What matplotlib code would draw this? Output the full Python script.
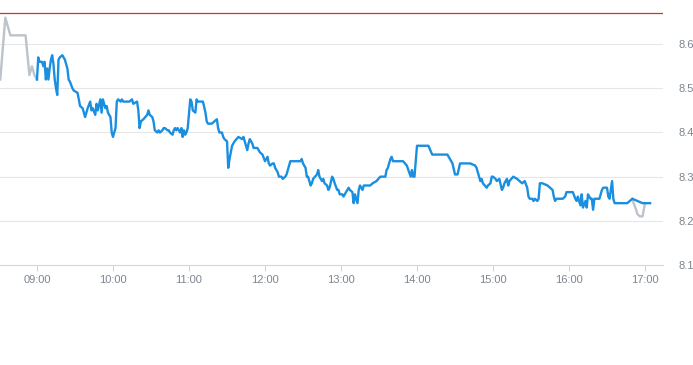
import matplotlib
matplotlib.use("Agg")
import matplotlib.pyplot as plt
import numpy as np

# minutes after 09:00 and price
pre_minutes = [-29, -25, -21, -9, -7, -6, -4, -2, 0]
pre_prices = [8.52, 8.66, 8.62, 8.62, 8.56, 8.53, 8.55, 8.53, 8.52]

day_minutes = [
    0, 1, 2, 4, 5, 6, 7, 8, 9, 10, 11, 12, 13, 14, 15, 16, 17, 18, 20, 21,
    22, 24, 25, 26, 28, 29, 32, 33, 34, 36, 37, 38, 39, 40, 42, 43, 44, 46, 47, 48,
    50, 51, 52, 54, 55, 56, 58, 59, 60, 62, 63, 64, 66, 67, 68, 71, 73, 75, 76, 79,
    80, 81, 82, 84, 87, 88, 89, 91, 92, 93, 95, 96, 97, 99, 100, 101, 103, 104, 105, 107,
    108, 109, 110, 111, 113, 114, 115, 116, 117, 118, 119, 121, 122, 123, 125, 126, 127, 131, 133, 134,
    135, 138, 140, 142, 143, 144, 146, 147, 148, 150, 151, 152, 154, 156, 159, 162, 163, 164, 166, 167,
    168, 170, 171, 172, 174, 176, 178, 180, 182, 183, 184, 186, 187, 188, 190, 191, 193, 194, 196, 197,
    198, 200, 205, 208, 209, 210, 212, 213, 214, 216, 217, 218, 221, 222, 223, 225, 226, 227, 229, 230,
    231, 233, 234, 235, 237, 238, 239, 241, 242, 243, 245, 246, 247, 249, 250, 251, 253, 254, 255, 257,
    258, 263, 265, 268, 271, 272, 275, 276, 277, 279, 280, 281, 287, 289, 292, 295, 296, 297, 298, 300,
    309, 312, 324, 326, 328, 330, 332, 334, 342, 346, 347, 348, 350, 351, 352, 355, 356, 358, 359, 360,
    362, 363, 365, 367, 368, 369, 371, 372, 373, 376, 379, 381, 383, 385, 387, 388, 389, 391, 392, 393,
    395, 396, 397, 399, 403, 405, 407, 408, 409, 410, 413, 414, 415, 417, 418, 421, 423, 425, 426, 427,
    429, 430, 431, 433, 434, 435, 437, 438, 439, 440, 444, 446, 447, 450, 451, 452, 454, 455, 456, 466,
    470, 474, 478, 484,
]
day_prices = [
    8.52, 8.57, 8.56, 8.56, 8.55, 8.56, 8.52, 8.545, 8.52, 8.545, 8.565, 8.575, 8.555, 8.52, 8.50, 8.485, 8.565, 8.57, 8.575, 8.57,
    8.565, 8.545, 8.52, 8.515, 8.50, 8.495, 8.49, 8.475, 8.46, 8.455, 8.445, 8.435, 8.445, 8.455, 8.47, 8.45, 8.455, 8.44, 8.465, 8.45,
    8.475, 8.445, 8.475, 8.455, 8.46, 8.445, 8.435, 8.40, 8.39, 8.41, 8.47, 8.475, 8.47, 8.475, 8.47, 8.47, 8.47, 8.475, 8.465, 8.47,
    8.45, 8.41, 8.425, 8.43, 8.44, 8.45, 8.44, 8.435, 8.425, 8.405, 8.40, 8.405, 8.40, 8.405, 8.41, 8.41, 8.405, 8.405, 8.40, 8.395,
    8.405, 8.41, 8.405, 8.41, 8.40, 8.41, 8.39, 8.405, 8.395, 8.40, 8.41, 8.475, 8.47, 8.45, 8.445, 8.475, 8.47, 8.47, 8.445, 8.425,
    8.42, 8.42, 8.425, 8.43, 8.41, 8.40, 8.40, 8.39, 8.385, 8.38, 8.32, 8.34, 8.37, 8.38, 8.39, 8.385, 8.39, 8.38, 8.36, 8.375,
    8.385, 8.375, 8.365, 8.365, 8.365, 8.355, 8.35, 8.335, 8.345, 8.33, 8.325, 8.33, 8.33, 8.32, 8.31, 8.30, 8.30, 8.295, 8.30, 8.305,
    8.315, 8.335, 8.335, 8.335, 8.34, 8.33, 8.32, 8.30, 8.30, 8.28, 8.285, 8.295, 8.305, 8.315, 8.30, 8.29, 8.295, 8.285, 8.28, 8.27,
    8.275, 8.30, 8.295, 8.285, 8.27, 8.27, 8.26, 8.26, 8.255, 8.26, 8.27, 8.275, 8.27, 8.265, 8.24, 8.26, 8.24, 8.27, 8.28, 8.27,
    8.28, 8.28, 8.285, 8.29, 8.30, 8.30, 8.30, 8.315, 8.32, 8.34, 8.345, 8.335, 8.335, 8.335, 8.325, 8.30, 8.315, 8.30, 8.30, 8.37,
    8.37, 8.35, 8.35, 8.34, 8.33, 8.305, 8.305, 8.33, 8.33, 8.325, 8.32, 8.31, 8.29, 8.295, 8.285, 8.275, 8.28, 8.285, 8.30, 8.30,
    8.295, 8.29, 8.295, 8.27, 8.275, 8.285, 8.295, 8.28, 8.29, 8.30, 8.295, 8.29, 8.285, 8.29, 8.275, 8.255, 8.25, 8.25, 8.245, 8.25,
    8.245, 8.25, 8.285, 8.285, 8.28, 8.275, 8.27, 8.255, 8.245, 8.25, 8.25, 8.25, 8.25, 8.255, 8.265, 8.265, 8.265, 8.25, 8.245, 8.255,
    8.235, 8.26, 8.23, 8.245, 8.23, 8.26, 8.25, 8.25, 8.225, 8.25, 8.25, 8.27, 8.275, 8.275, 8.255, 8.25, 8.29, 8.25, 8.24, 8.24,
    8.25, 8.245, 8.24, 8.24,
]

post_minutes = [470, 471, 473, 474, 476, 478, 480]
post_prices = [8.25, 8.24, 8.225, 8.215, 8.21, 8.21, 8.24]

prev_close = 8.67

tick_minutes = [0, 60, 120, 180, 240, 300, 360, 420, 480]
tick_labels = ["09:00", "10:00", "11:00", "12:00", "13:00", "14:00", "15:00", "16:00", "17:00"]
y_ticks = [8.1, 8.2, 8.3, 8.4, 8.5, 8.6]

label_color = "#7d858f"

fig = plt.figure(figsize=(6.93, 3.65), dpi=100)
ax = fig.add_axes([0, 100 / 365, 663 / 693, 265 / 365])

ax.plot(pre_minutes, pre_prices, color="#bcc3ca", lw=1.7, solid_joinstyle="round", zorder=2)
ax.plot(post_minutes, post_prices, color="#bcc3ca", lw=1.7, solid_joinstyle="round", zorder=2)
ax.plot(day_minutes, day_prices, color="#1a8fe0", lw=1.7, solid_joinstyle="round", zorder=3)
ax.axhline(prev_close, color="#c0392b", lw=0.9, zorder=4)

ax.set_xlim(-29.2, 494.2)
ax.set_ylim(8.1, 8.7)

for y in y_ticks[1:]:
    ax.axhline(y, color="#e6e6e6", lw=0.8, zorder=1)

for side in ["top", "left", "right"]:
    ax.spines[side].set_visible(False)
ax.spines["bottom"].set_color("#ccd6eb")
ax.spines["bottom"].set_linewidth(0.8)

ax.set_xticks(tick_minutes)
ax.set_xticklabels(tick_labels)
ax.tick_params(axis="x", length=4, width=0.8, color="#ccd6eb", pad=3,
               labelsize=8, labelcolor=label_color)
for t in ax.get_xticklabels():
    t.set_family("Liberation Sans")

ax.set_yticks(y_ticks)
ax.set_yticklabels([f"{v:.1f}" for v in y_ticks])
ax.yaxis.tick_right()
ax.tick_params(axis="y", length=0, pad=11.5, labelsize=8, labelcolor=label_color)
for t in ax.get_yticklabels():
    t.set_family("Liberation Sans")

fig.savefig("out.png", dpi=100)
